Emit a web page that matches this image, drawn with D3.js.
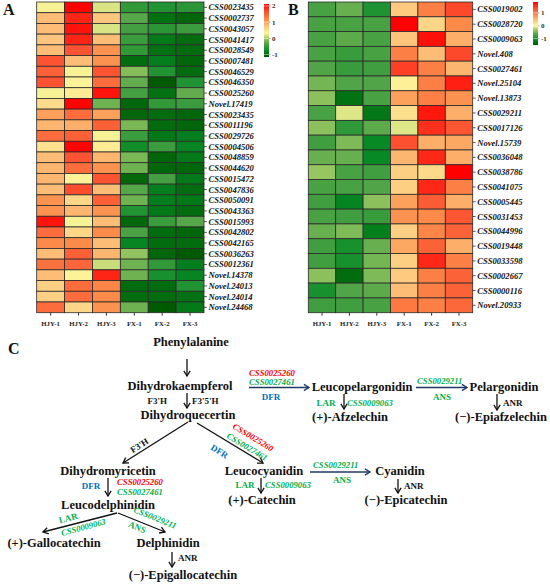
<!DOCTYPE html>
<html><head><meta charset="utf-8">
<script src="https://cdn.jsdelivr.net/npm/d3@7"></script>
<style>body{margin:0;background:#fff}svg{display:block}</style>
</head><body>
<script>
const columns = ["HJY-1","HJY-2","HJY-3","FX-1","FX-2","FX-3"];
const rowsA = ["CSS0023435","CSS0002737","CSS0043057","CSS0041417","CSS0028549","CSS0007481","CSS0046529","CSS0046350","CSS0025260","Novel.17419","CSS0023435","CSS0011196","CSS0029726","CSS0004506","CSS0048859","CSS0044620","CSS0015472","CSS0047836","CSS0050091","CSS0043363","CSS0015993","CSS0042802","CSS0042165","CSS0036263","CSS0012361","Novel.14378","Novel.24013","Novel.24014","Novel.24468"];
const valuesA = [
[0.3,2.1,0.2,-0.5,-0.6,-0.55],
[0.8,1.9,0.75,-0.3,-0.95,-1.05],
[0.8,2.0,0.2,-0.4,-0.55,-0.45],
[0.75,1.9,0.8,-0.45,-0.9,-1.0],
[0.8,1.6,1.1,-0.5,-0.95,-1.0],
[1.6,0.8,1.1,-1.0,-0.85,-1.05],
[1.5,0.3,1.6,-0.1,-0.6,-1.0],
[1.6,0.35,1.4,-0.25,-1.2,-0.6],
[0.3,0.4,2.0,-0.4,-0.95,-0.25],
[0.55,2.1,-0.2,-1.05,-0.5,-0.45],
[1.0,1.4,1.0,-1.05,-1.0,-1.05],
[0.85,0.9,1.5,-0.15,-1.0,-1.05],
[1.4,1.5,0.3,-0.45,-0.9,-0.85],
[0.5,2.1,0.4,-0.7,-0.45,-0.8],
[0.8,1.6,0.85,-0.15,-1.05,-0.9],
[0.85,1.4,1.1,-0.2,-1.05,-1.05],
[0.85,0.35,1.6,-1.05,-0.4,-0.9],
[0.8,1.65,0.8,-0.3,-0.85,-1.0],
[1.1,0.6,1.5,-0.2,-0.85,-0.9],
[1.1,0.85,1.1,-0.6,-0.9,-1.0],
[2.0,0.3,0.8,-1.05,-0.45,-0.3],
[1.4,0.6,1.15,-0.35,-1.0,-1.05],
[1.15,1.15,0.8,-0.8,-1.0,-1.0],
[0.8,1.5,0.85,-0.05,-1.05,-1.15],
[1.35,1.45,0.15,-0.2,-0.5,-0.85],
[0.8,0.35,1.9,-0.2,-0.65,-0.8],
[0.65,1.4,1.2,-1.0,-1.0,-0.6],
[0.65,1.4,1.15,-1.0,-1.0,-0.95],
[1.4,0.6,1.1,-0.2,-1.15,-0.9]];
const rowsB = ["CSS0019002","CSS0028720","CSS0009063","Novel.408","CSS0027461","Novel.25104","Novel.13873","CSS0029211","CSS0017126","Novel.15739","CSS0036048","CSS0038786","CSS0041075","CSS0005445","CSS0031453","CSS0044996","CSS0019448","CSS0033598","CSS0002667","CSS0000116","Novel.20933"];
const valuesB = [
[-0.7,-0.55,-0.95,0.4,0.95,1.4],
[-0.7,-0.7,-0.7,1.85,0.3,0.85],
[-0.7,-0.6,-0.7,0.45,1.75,0.6],
[-0.7,-0.8,-0.7,0.95,0.5,1.4],
[-0.65,-0.8,-0.75,1.45,0.95,0.55],
[-0.5,-0.65,-0.65,0.05,0.95,1.65],
[-0.4,-1.3,-0.7,0.7,0.95,0.8],
[-0.7,-0.1,-1.25,0.2,1.7,0.6],
[-0.4,-0.85,-0.6,-0.1,1.55,1.3],
[-0.75,-0.45,-1.1,1.35,0.6,0.65],
[-0.55,-0.55,-1.1,0.55,1.6,0.6],
[-0.35,-0.7,-0.75,0.35,0.25,1.85],
[-0.7,-0.7,-0.65,0.35,1.6,0.95],
[-0.75,-1.15,-0.4,0.7,1.25,0.6],
[-0.7,-0.75,-0.8,0.8,0.85,1.3],
[-0.55,-0.45,-1.2,0.35,0.9,1.2],
[-0.75,-1.0,-0.55,0.65,1.2,0.6],
[-0.75,-1.0,-0.5,0.35,1.6,0.95],
[-0.4,-1.35,-0.45,0.4,0.95,1.2],
[-1.0,-0.65,-0.6,0.5,0.95,1.2],
[-0.75,-0.75,-0.7,1.0,0.95,1.15]];
const legendTicksA = [2,1,0,-1];
const legendTicksB = [1,0,-1];
const domainA = [-1.15, 2.12];
const domainB = [-1.5, 1.85];

const palette = [[0,"#005a00"],[0.12,"#078a26"],[0.25,"#4ea346"],[0.35,"#9cc862"],[0.45,"#fdf59a"],[0.58,"#fdc57d"],[0.70,"#fc8c4a"],[0.85,"#fc5030"],[1,"#ff0000"]];
function makeColor(domain){
  return d3.scaleLinear().domain(palette.map(p=>domain[0]+p[0]*(domain[1]-domain[0]))).range(palette.map(p=>p[1])).clamp(true);
}

const W=550,H=585;
const svg = d3.select("body").append("svg").attr("width",W).attr("height",H);
svg.append("rect").attr("width",W).attr("height",H).attr("fill","#fff");
const SERIF = "'Liberation Serif','Times New Roman',serif";

function heatmap(rows, vals, x0, x1, y0, y1, domain, legend, ticks){
  const color = makeColor(domain);
  const x = d3.scaleBand().domain(columns).range([x0,x1]);
  const y = d3.scaleBand().domain(d3.range(rows.length)).range([y0,y1]);
  const g = svg.append("g");
  vals.forEach((r,i)=>r.forEach((v,j)=>{
    g.append("rect").attr("x",x(columns[j])).attr("y",y(i)).attr("width",x.bandwidth()).attr("height",y.bandwidth())
     .attr("fill",color(v)).attr("stroke","#2a2a2a").attr("stroke-width",0.8);
  }));
  rows.forEach((r,i)=>{
    const cy=y(i)+y.bandwidth()/2;
    g.append("line").attr("x1",x1).attr("x2",x1+3).attr("y1",cy).attr("y2",cy).attr("stroke","#333").attr("stroke-width",0.8);
    g.append("text").attr("x",x1+4.5).attr("y",cy).attr("dy","0.35em").attr("font-family",SERIF)
     .attr("font-style","italic").attr("font-weight","bold").attr("font-size",8.6).attr("fill","#111").text(r);
  });
  const ax = d3.axisBottom(x).tickSize(3).tickSizeOuter(0);
  const a = g.append("g").attr("transform",`translate(0,${y1})`).call(ax);
  a.select(".domain").remove();
  a.selectAll("line").attr("stroke","#333");
  a.selectAll("text").attr("font-family",SERIF).attr("font-weight","bold").attr("font-size",6.8).attr("fill","#222").attr("dy","1.1em");
  const [lx,ly0,ly1] = legend;
  const ly = d3.scaleLinear().domain(domain).range([ly1,ly0]);
  const gid = "grad"+Math.round(x0);
  const grad = svg.append("defs").append("linearGradient").attr("id",gid).attr("x1",0).attr("x2",0).attr("y1",1).attr("y2",0);
  d3.range(0,1.0001,0.05).forEach(t=>grad.append("stop").attr("offset",t).attr("stop-color",color(domain[0]+t*(domain[1]-domain[0]))));
  g.append("rect").attr("x",lx).attr("y",ly0).attr("width",5).attr("height",ly1-ly0).attr("fill",`url(#${gid})`);
  ticks.forEach(t=>{
    g.append("line").attr("x1",lx).attr("x2",lx+5).attr("y1",ly(t)).attr("y2",ly(t)).attr("stroke","#fff").attr("stroke-width",0.6).attr("opacity",0.8);
    g.append("line").attr("x1",lx+5).attr("x2",lx+6.5).attr("y1",ly(t)).attr("y2",ly(t)).attr("stroke","#555").attr("stroke-width",0.5);
    g.append("text").attr("x",lx+8).attr("y",ly(t)).attr("dy","0.35em").attr("font-family",SERIF).attr("font-weight","bold")
     .attr("font-size",7).attr("fill","#333").text(t<0?"-"+Math.abs(t):t);
  });
}
heatmap(rowsA, valuesA, 36.7, 204, 2, 312.7, domainA, [264,4,57], legendTicksA);
heatmap(rowsB, valuesB, 308.3, 472.7, 2, 312.7, domainB, [533,2,45], legendTicksB);

[["A",3,15],["B",288,15],["C",8,354]].forEach(([t,x,y])=>svg.append("text").attr("x",x).attr("y",y).attr("font-family",SERIF).attr("font-weight","bold").attr("font-size",16).attr("fill","#111").text(t));

const RED="#ff0000", GRN="#00b050", BLU="#0070c0", NAVY="#1f3864";
function T(txt,x,y,o={}){
  const t=svg.append("text").attr("x",x).attr("y",y).attr("font-family",SERIF).attr("font-weight","bold")
    .attr("font-size",o.size||12.5).attr("fill",o.color||"#111").attr("text-anchor",o.anchor||"middle").text(txt);
  if(o.italic) t.attr("font-style","italic");
  if(o.rot!==undefined) t.attr("transform",`rotate(${o.rot},${x},${y})`);
  return t;
}
function G(txt,x,y,color,o={}){ return T(txt,x,y,Object.assign({size:8.7,italic:true,color:color,anchor:"start"},o)); }
function E(txt,x,y,color,o={}){ return T(txt,x,y,Object.assign({size:9,color:color,anchor:"middle"},o)); }
function arrow(x1,y1,x2,y2,color="#111"){
  svg.append("line").attr("x1",x1).attr("y1",y1).attr("x2",x2).attr("y2",y2).attr("stroke",color).attr("stroke-width",1.3);
  const a=Math.atan2(y2-y1,x2-x1), L=6, s=0.55;
  const p=[[x2-L*Math.cos(a-s),y2-L*Math.sin(a-s)],[x2,y2],[x2-L*Math.cos(a+s),y2-L*Math.sin(a+s)]];
  svg.append("polyline").attr("points",p.map(d=>d.join(",")).join(" ")).attr("fill","none").attr("stroke",color).attr("stroke-width",1.3);
}

T("Phenylalanine",191,346);
arrow(187,359,187,376);
T("Dihydrokaempferol",180,390);
arrow(187,393,187,408);
T("F3'H",167,404,{size:9,anchor:"end"});
T("F3'5'H",192,404,{size:9,anchor:"start"});
T("Dihydroquecertin",188,419);

// top branch
G("CSS0025260",249,375.5,RED);
G("CSS0027461",249,385,GRN);
arrow(249,387.5,309,387.5,NAVY);
E("DFR",271,400,BLU);
T("Leucopelargonidin",362,391);
arrow(344,394,344,409);
E("LAR",326,406,GRN);
G("CSS0009063",347,406,GRN);
T("(+)-Afzelechin",350,421);
G("CSS0029211",417,384,GRN);
arrow(416,387.5,467,387.5,NAVY);
E("ANS",442,400,GRN);
T("Pelargonidin",504,391);
arrow(497,394,497,410);
E("ANR",503,406,"#111",{anchor:"start"});
T("(\u2212)-Epiafzelechin",501,421);

// left diagonal
arrow(188,422,123,463);
T("F3'H",141,448,{size:9,rot:-32});
T("Dihydromyricetin",108,475);
arrow(108,478,108,496);
E("DFR",91,489,BLU);
G("CSS0025260",117,484.5,RED);
G("CSS0027461",117,494.5,GRN);
T("Leucodelphinidin",108,509);
arrow(117,513,43,532);
E("LAR",69,521,GRN,{rot:-15});
G("CSS0009063",62,536,GRN,{rot:-15});
arrow(118,513,165,532);
G("CSS0029211",133,512,GRN,{rot:22});
E("ANS",136,530,GRN,{rot:22});
T("(+)-Gallocatechin",54,547);
T("Delphinidin",168,547);
arrow(172,552,172,567);
E("ANR",178,561,"#111",{anchor:"start"});
T("(\u2212)-Epigallocatechin",183,579);

// right diagonal
arrow(197,423,263,463);
G("CSS0025260",232,428,RED,{rot:31});
G("CSS0027461",226,437.5,GRN,{rot:31});
E("DFR",218,454,BLU,{rot:31});
T("Leucocyanidin",264,475);
arrow(261,478,261,493);
E("LAR",245,488,GRN);
G("CSS0009063",265,488,GRN);
T("(+)-Catechin",262,504);
G("CSS0029211",313,468,GRN);
arrow(310,472,370,472,NAVY);
E("ANS",342,483,GRN);
T("Cyanidin",400,475);
arrow(398,479,398,493);
E("ANR",404,489,"#111",{anchor:"start"});
T("(\u2212)-Epicatechin",406,504);
</script>
</body></html>
